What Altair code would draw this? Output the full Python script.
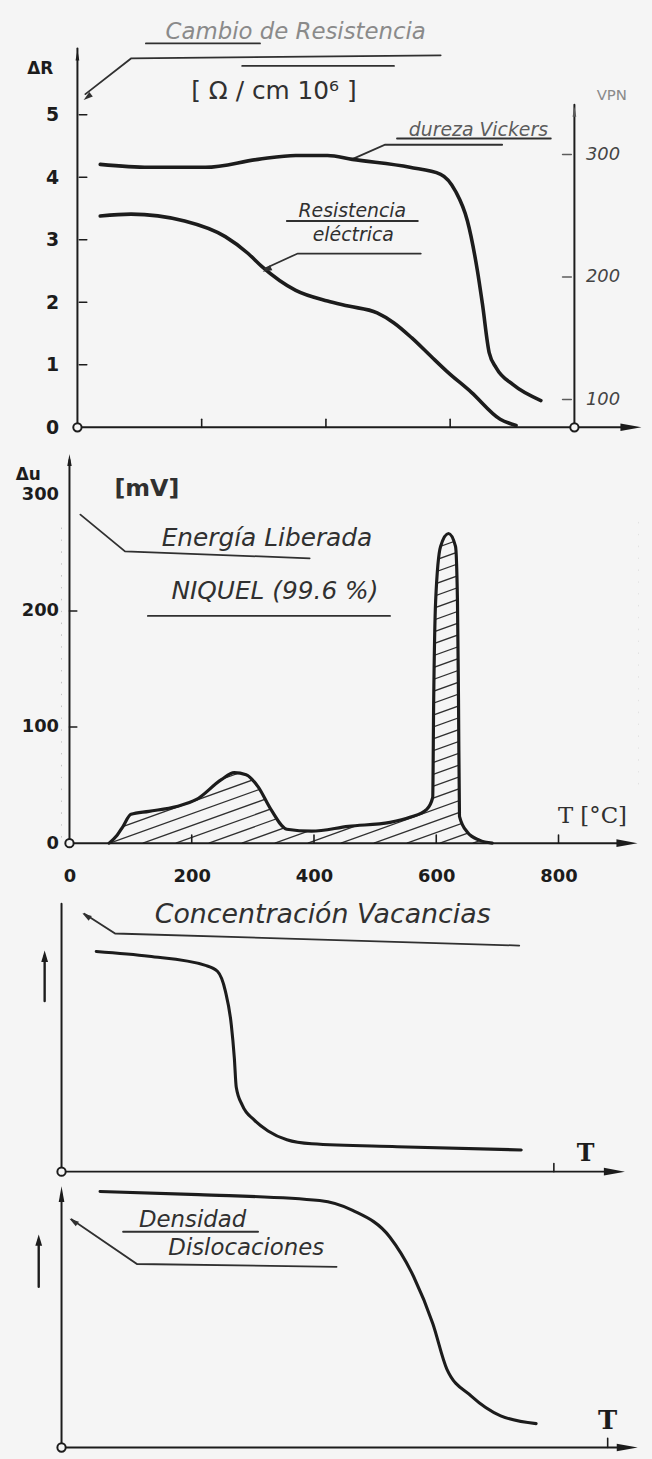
import altair as alt
import pandas as pd

BG = "#f5f5f5"
INK = "#1c1c1c"
SOFT = "#303030"
MID = "#5c5c5c"
FAINT = "#8a8a8a"
HAND = "DejaVu Sans"
SERIF = "DejaVu Serif"
ARROW = "M0,-1L0.36,1L-0.36,1Z"
LEAD = "M0,-1L0.6,1L-0.6,1Z"

# ---------------- values ----------------
# Panel 1: resistivity change dR [ohm/cm 10^6] and Vickers hardness (VPN) vs T [C]
res_T = [36.7, 86.3, 172.5, 238.0, 274.8, 297.1, 351.4, 402.6, 436.1, 482.4,
         509.6, 538.3, 568.7, 594.2, 634.2, 680.5, 706.1]
res_dR = [3.38, 3.41, 3.30, 3.05, 2.78, 2.57, 2.19, 2.02, 1.94, 1.83,
          1.67, 1.43, 1.14, 0.90, 0.56, 0.13, 0.03]
vick_T = [36.7, 115.0, 206.1, 290.7, 351.4, 402.6, 442.5, 535.1, 584.7, 608.6,
          627.8, 643.8, 651.8, 662.9, 674.1, 701.3, 746.0]
vick_VPN = [291.9, 289.5, 289.5, 296.0, 299.2, 299.2, 296.0, 289.5, 283.8, 270.0,
            245.7, 205.3, 178.5, 138.1, 125.9, 112.1, 99.2]
dR_ticks = [0, 1, 2, 3, 4, 5]
vpn_ticks = [100, 200, 300]
p1_T_ticks = [200, 400, 600]

# Panel 2: released energy [mV] vs T [C]
energy_T = [64.9, 77.9, 87.7, 100.6, 129.9, 175.3, 207.8, 248.4, 269.5, 289.0,
            308.4, 329.5, 355.5, 396.1, 456.2, 524.4, 556.8, 584.4, 594.2, 595.8,
            599.0, 607.1, 620.1, 631.5, 634.7, 636.4, 638.0, 651.0, 670.5, 691.6]
energy_mV = [0, 6.8, 14.5, 24.8, 27.4, 31.6, 37.6, 54.7, 60.7, 59.0,
             48.7, 29.1, 12.0, 10.3, 14.5, 17.9, 22.2, 29.1, 39.3, 123.1,
             208.5, 255.6, 266.7, 255.6, 208.5, 123.1, 23.1, 9.4, 2.6, 0]
du_ticks = [0, 100, 200, 300]
T_ticks = [0, 200, 400, 600, 800]

# Panel 3: vacancy concentration (relative units) vs T
vac_T = [56.8, 142.9, 235.4, 254.9, 267.9, 277.6, 282.5, 285.7, 295.5, 314.9,
         337.7, 368.5, 409.1, 548.7, 751.6]
vac_C = [8.22, 8.04, 7.70, 7.48, 6.74, 5.48, 4.26, 3.15, 2.48, 1.93,
         1.52, 1.19, 1.04, 0.93, 0.81]

# Panel 4: dislocation density (relative units) vs T
dis_T = [63.0, 224.0, 422.0, 476.0, 537.0, 576.0, 607.0, 630.0, 670.0, 718.0, 776.0]
dis_D = [9.85, 9.73, 9.50, 9.12, 8.09, 6.56, 4.77, 3.02, 1.98, 1.22, 0.92]

# annotations (anchor points in each panel's data units)
p1_text = ["Cambio de Resistencia", "[ Ω / cm 10⁶ ]", "dureza Vickers", "Resistencia", "eléctrica"]
p1_text_T = [351.4, 316.3, 645.4, 442.5, 444.0]
p1_text_R = [6.32, 5.38, 4.76, 3.46, 3.08]
p1_leaders = [
    [(12.8, 5.33), (86.3, 5.90), (584.7, 5.95)],
    [(265.2, 5.78), (509.6, 5.78)],
    [(110.2, 6.14), (293.9, 6.14)],
    [(442.5, 4.29), (495.2, 4.52), (683.7, 4.52)],
    [(514.4, 4.62), (762.0, 4.62)],
    [(301.9, 2.54), (354.6, 2.78), (552.7, 2.78)],
    [(337.0, 3.30), (548.0, 3.30)],
]
p2_text = ["[mV]", "Energía Liberada", "NIQUEL (99.6 %)", "T [°C]"]
p2_text_T = [126.6, 323.0, 336.0, 855.5]
p2_text_u = [305.1, 262.4, 217.1, 23.1]
p2_leaders = [
    [(17.9, 282.9), (90.9, 251.3), (392.9, 245.3)],
    [(128.2, 195.7), (524.4, 195.7)],
]
p3_text = ["Concentración Vacancias", "T"]
p3_text_T = [427.0, 857.0]
p3_text_C = [9.56, 0.67]
p3_leaders = [
    [(37.3, 9.63), (87.7, 8.89), (748.4, 8.44)],
]
p3_up_T, p3_up_C = [-27.6, -27.6], [6.37, 8.04]
p4_text = ["Densidad", "Dislocaciones", "T"]
p4_text_T = [214.3, 302.0, 893.0]
p4_text_D = [8.74, 7.66, 1.03]
p4_leaders = [
    [(16.2, 8.78), (123.4, 7.06), (449.7, 6.95)],
    [(100.6, 8.30), (321.4, 8.30)],
]
p4_up_T, p4_up_D = [-37.3, -37.3], [6.18, 7.98]

# ---------------- scales ----------------
def S(lo, hi):
    return alt.Scale(domain=[lo, hi], nice=False, zero=False)

X1, Y1, V1 = S(-25.6, 798.7), S(-0.238, 6.746), S(65.2, 421.5)
X2, Y2 = S(-13.0, 930.2), S(-3.42, 345.3)
X3, Y3 = S(0, 946), S(-0.296, 10.67)
X4, Y4 = S(0, 946), S(-0.267, 10.27)


def X(sc, axis=None):
    return alt.X("x:Q", scale=sc, axis=axis)


def Y(sc, axis=None):
    return alt.Y("y:Q", scale=sc, axis=axis)


def segs(xsc, ysc, x, x2, y, y2, width=2.0, color=INK):
    d = pd.DataFrame({"x": x, "x2": x2, "y": y, "y2": y2})
    return alt.Chart(d).mark_rule(color=color, strokeWidth=width, strokeCap="round").encode(
        x=X(xsc), x2="x2:Q", y=Y(ysc), y2="y2:Q")


def curve(xsc, ysc, xs, ys, width=3.6, color=INK, ax=None, ay=None):
    d = pd.DataFrame({"x": xs, "y": ys})
    return alt.Chart(d).mark_line(color=color, strokeWidth=width, interpolate="monotone",
                                  strokeCap="round", strokeJoin="round").encode(
        x=X(xsc, ax), y=Y(ysc, ay))


def polylines(xsc, ysc, groups, width=1.8, color=SOFT):
    rows = [{"x": px, "y": py, "g": gi, "o": oi}
            for gi, g in enumerate(groups) for oi, (px, py) in enumerate(g)]
    return alt.Chart(pd.DataFrame(rows)).mark_line(color=color, strokeWidth=width,
                                                   strokeCap="round").encode(
        x=X(xsc), y=Y(ysc), detail="g:N", order="o:Q")


def heads(xsc, ysc, xs, ys, angs, size, shape=ARROW, color=INK):
    d = pd.DataFrame({"x": xs, "y": ys, "a": angs})
    return alt.Chart(d).mark_point(shape=shape, filled=True, size=size, color=color,
                                   opacity=1, strokeWidth=0).encode(
        x=X(xsc), y=Y(ysc), angle=alt.Angle("a:Q", scale=None))


def rings(xsc, ysc, xs, ys):
    d = pd.DataFrame({"x": xs, "y": ys})
    return alt.Chart(d).mark_point(shape="circle", size=70, filled=True, fill=BG, stroke=INK,
                                   strokeWidth=2, opacity=1).encode(x=X(xsc), y=Y(ysc))


def texts(xsc, ysc, xs, ys, strs, styles):
    out = []
    for x, y, s, st in zip(xs, ys, strs, styles):
        d = pd.DataFrame({"x": [x], "y": [y], "t": [s]})
        out.append(alt.Chart(d).mark_text(baseline="middle", align="center", **st).encode(
            x=X(xsc), y=Y(ysc), text="t:N"))
    return out


def hand(size, color=SOFT, weight="normal"):
    return dict(font=HAND, fontSize=size, fontStyle="italic", color=color, fontWeight=weight)


num_axis = dict(domain=False, ticks=False, tickSize=0, grid=False, labelFont=HAND,
                labelFontWeight="bold", labelColor=INK, labelFlush=False,
                labelOverlap=False, zindex=1)

# ---------------- panel 1 ----------------
axR = alt.Axis(values=dR_ticks, labelFontSize=19, labelPadding=3, title="ΔR", titleAngle=0,
               titleX=-22, titleY=63, titleFont=HAND, titleFontSize=17, titleFontWeight="bold",
               titleColor=INK, titleAlign="center", titleBaseline="middle", **num_axis)
axV = alt.Axis(values=vpn_ticks, orient="right", domain=False, ticks=False, tickSize=0, grid=False,
               labelFont=HAND, labelFontSize=18, labelFontStyle="italic", labelColor="#444",
               labelPadding=12, labelAlign="left", labelFlush=False, labelOverlap=False,
               title="VPN", titleAngle=0, titleX=38, titleY=90, titleFont=HAND, titleFontSize=15,
               titleFontWeight="normal", titleColor=FAINT, titleAlign="center",
               titleBaseline="middle", zindex=1)

p1_R = alt.layer(
    segs(X1, Y1, [0, 0, 800], [891, 0, 800], [0, 0, 0], [0, 6.06, 5.16]),
    segs(X1, Y1, [3] * 5, [15] * 5, dR_ticks[1:], dR_ticks[1:], width=1.6),
    segs(X1, Y1, p1_T_ticks, p1_T_ticks, [0] * 3, [0.13] * 3, width=1.6),
    curve(X1, Y1, res_T, res_dR, ay=axR),
    polylines(X1, Y1, p1_leaders),
    heads(X1, Y1, [16.0, 305.0], [5.28, 2.52], [232, 244], 90, shape=LEAD, color=SOFT),
    heads(X1, Y1, [891], [0], [90], 450),
    heads(X1, Y1, [0], [5.95], [0], 110),
    heads(X1, Y1, [800], [5.05], [0], 110, color=MID),
    rings(X1, Y1, [0, 800], [0, 0]),
    *texts(X1, Y1, p1_text_T, p1_text_R, p1_text,
           [hand(23, FAINT), dict(font=HAND, fontSize=25, color=SOFT), hand(19, MID),
            hand(19), hand(19)]),
).resolve_axis(y="independent")
p1_V = alt.layer(
    curve(X1, V1, vick_T, vick_VPN, ay=axV),
    segs(X1, V1, [781] * 3, [795] * 3, vpn_ticks, vpn_ticks, width=1.6, color=MID),
).resolve_axis(y="independent")
p1 = alt.layer(p1_R, p1_V).resolve_scale(y="independent").properties(width=516, height=440)

# ---------------- panel 2 ----------------
axU = alt.Axis(values=du_ticks, labelFontSize=18, labelPadding=3, title="Δu", titleAngle=0,
               titleX=-34, titleY=33, titleFont=HAND, titleFontSize=17, titleFontWeight="bold",
               titleColor=INK, titleAlign="center", titleBaseline="middle", **num_axis)
axT = alt.Axis(values=T_ticks, labelFontSize=18, labelPadding=21, title=None, **num_axis)

hatch = alt.Chart(alt.sequence(-1500, 700, 54, as_="h0")).transform_calculate(
    h1="datum.h0 + 1480", b="0", t="280").mark_rule(
    color=SOFT, strokeWidth=1.3, clip=True).encode(
    x=alt.X("h0:Q", scale=X2, axis=None), x2="h1:Q",
    y=alt.Y("b:Q", scale=Y2, axis=None), y2="t:Q")
mask_df = pd.DataFrame({"x": [X2.domain[0]] + energy_T + [X2.domain[1]],
                        "y": [0] + energy_mV + [0]})
mask_df["top"] = Y2.domain[1]
mask = alt.Chart(mask_df).mark_area(color=BG, opacity=1, interpolate="monotone").encode(
    x=X(X2), y=Y(Y2), y2="top:Q")

p2 = alt.layer(
    hatch, mask,
    segs(X2, Y2, [0, 0], [912, 0], [0, 0], [0, 330]),
    segs(X2, Y2, T_ticks[1:], T_ticks[1:], [0] * 4, [7] * 4, width=1.6),
    segs(X2, Y2, [0, 0], [12, 12], du_ticks[1:3], du_ticks[1:3], width=1.6),
    curve(X2, Y2, energy_T, energy_mV, width=3.2, ax=axT, ay=axU),
    polylines(X2, Y2, p2_leaders),
    heads(X2, Y2, [912], [0], [90], 450),
    heads(X2, Y2, [0], [330], [0], 150),
    rings(X2, Y2, [0], [0]),
    *texts(X2, Y2, p2_text_T, p2_text_u, p2_text,
           [dict(font=HAND, fontSize=24, color=SOFT, fontWeight="bold"), hand(25), hand(25),
            dict(font=SERIF, fontSize=23, color=SOFT)]),
).resolve_axis(x="independent", y="independent").properties(width=581, height=408)

# ---------------- panel 3 ----------------
p3 = alt.layer(
    segs(X3, Y3, [0, 0], [904, 0], [0, 0], [0, 10.0]),
    segs(X3, Y3, [805], [805], [0], [0.3], width=1.6),
    curve(X3, Y3, vac_T, vac_C, width=3.1),
    polylines(X3, Y3, p3_leaders),
    polylines(X3, Y3, [list(zip(p3_up_T, p3_up_C))], width=2.4, color=INK),
    heads(X3, Y3, [40.5], [9.55], [303], 90, shape=LEAD, color=SOFT),
    heads(X3, Y3, [p3_up_T[-1]], [p3_up_C[-1]], [0], 130, shape=LEAD, color=INK),
    heads(X3, Y3, [904], [0], [90], 450),
    rings(X3, Y3, [0], [0]),
    *texts(X3, Y3, p3_text_T, p3_text_C, p3_text,
           [hand(27), dict(font=SERIF, fontSize=24, fontWeight="bold", color=INK)]),
).properties(width=583, height=296)

# ---------------- panel 4 ----------------
p4 = alt.layer(
    segs(X4, Y4, [0, 0], [925, 0], [0, 0], [0, 9.6]),
    segs(X4, Y4, [893], [893], [0], [0.35], width=1.6),
    curve(X4, Y4, dis_T, dis_D, width=3.1),
    polylines(X4, Y4, p4_leaders),
    polylines(X4, Y4, [list(zip(p4_up_T, p4_up_D))], width=2.4, color=INK),
    heads(X4, Y4, [19.5], [8.7], [304], 90, shape=LEAD, color=SOFT),
    heads(X4, Y4, [p4_up_T[-1]], [p4_up_D[-1]], [0], 130, shape=LEAD, color=INK),
    heads(X4, Y4, [925], [0], [90], 450),
    heads(X4, Y4, [0], [9.75], [0], 250),
    rings(X4, Y4, [0], [0]),
    *texts(X4, Y4, p4_text_T, p4_text_D, p4_text,
           [hand(23), hand(23), dict(font=SERIF, fontSize=26, fontWeight="bold", color=INK)]),
).properties(width=583, height=276)

chart = alt.vconcat(p1, p2, p3, p4, spacing=0).properties(
    background=BG,
    padding={"left": 15, "top": 0, "right": 10, "bottom": 0},
).configure_view(strokeWidth=0).configure_axis(grid=False)

chart.save("out.html", embed_options={"renderer": "svg", "actions": False})
